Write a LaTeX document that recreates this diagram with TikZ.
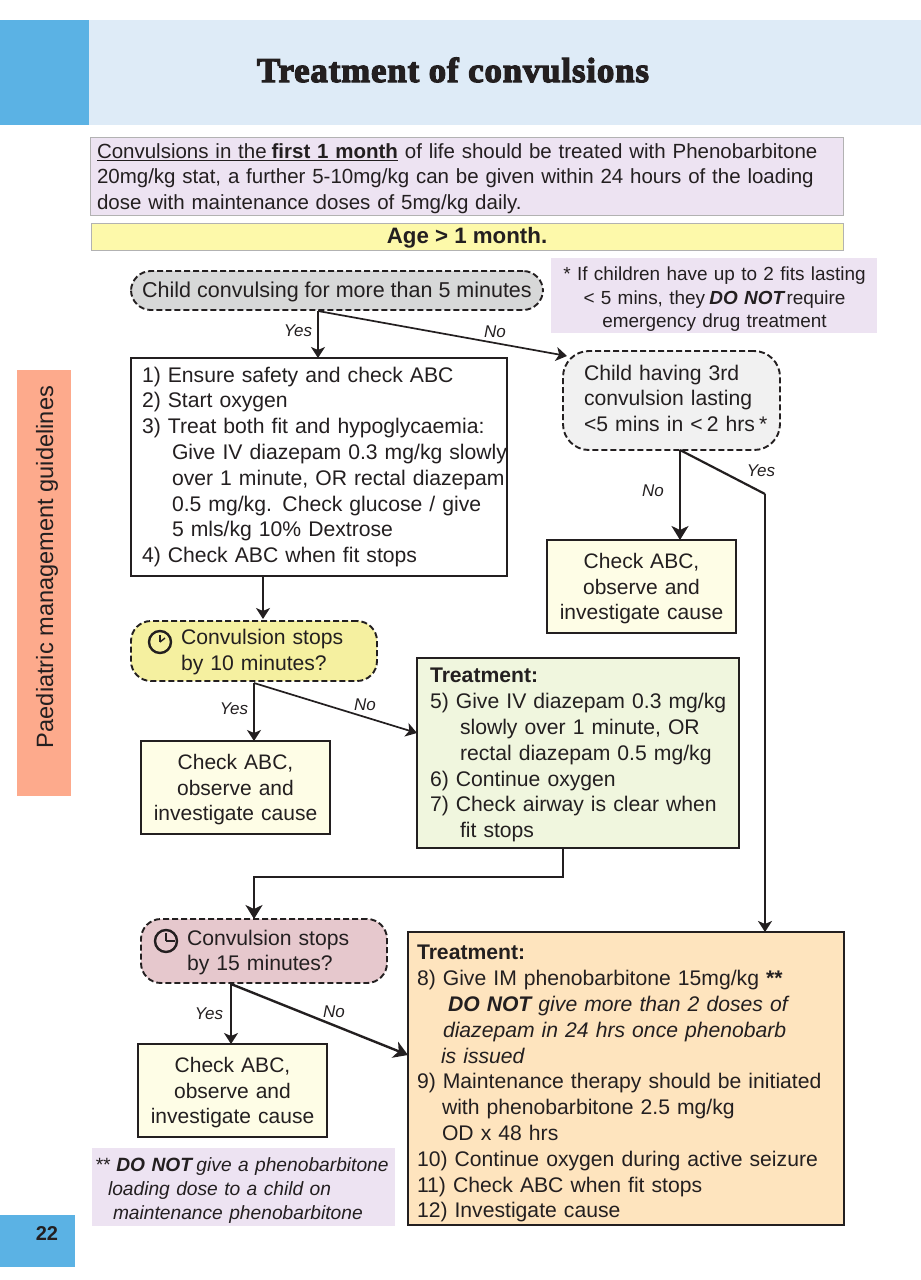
\documentclass[tikz,border=0pt]{standalone}
\usepackage{fontspec}
\setmainfont{Liberation Sans}
\newfontfamily\titlefont[FakeBold=3.5,LetterSpace=2.5]{Liberation Serif}
\usetikzlibrary{arrows.meta,calc}
\definecolor{hdrblue}{RGB}{222,235,247}
\definecolor{tabblue}{RGB}{91,178,228}
\definecolor{notepurple}{RGB}{237,227,242}
\definecolor{ageyellow}{RGB}{253,249,170}
\definecolor{startgrey}{RGB}{215,216,216}
\definecolor{lightgrey}{RGB}{241,241,241}
\definecolor{cream}{RGB}{254,253,230}
\definecolor{qyellow}{RGB}{245,240,160}
\definecolor{qpink}{RGB}{230,200,205}
\definecolor{trgreen}{RGB}{240,246,222}
\definecolor{trorange}{RGB}{254,228,190}
\definecolor{sidesalmon}{RGB}{253,170,140}
\definecolor{ink}{RGB}{35,31,32}
\newcommand{\bodytext}{\fontsize{21.15}{25.8}\selectfont}
\newcommand{\lin}[2]{\hspace*{#1pt}\rlap{#2}}
\tikzset{
  x=1pt,y=-1pt,
  every node/.style={text=ink,font=\bodytext,inner sep=0pt,outer sep=0pt},
  drop/.style={execute at begin node={\rule{0pt}{#1pt}}},
  panel/.style={anchor=north west,draw=ink,line width=2.4pt,align=left},
  check/.style={panel,fill=cream,minimum width=189pt,minimum height=93pt,text width=185pt,align=center,line width=2pt,font=\fontsize{21}{25.6}\selectfont,drop=20},
  query/.style={anchor=north west,draw=ink,line width=1.9pt,dash pattern=on 6pt off 3pt,rounded corners=20pt,align=left},
  tint/.style={anchor=north west,draw=none},
  ans/.style={font=\fontsize{17}{20}\selectfont\itshape},
  link/.style={draw=ink,line width=1.7pt,-{Stealth[length=11pt,width=14pt,inset=3pt]}},
  heavy/.style={draw=ink,line width=2.4pt,-{Stealth[length=14pt,width=17pt,inset=4pt]}},
  plain/.style={draw=ink,line width=2.2pt},
}
\begin{document}
\begin{tikzpicture}
\useasboundingbox (0,0) rectangle (921,1280);
\fill[white] (0,0) rectangle (921,1280);
% header
\node[tint,fill=tabblue,minimum width=89pt,minimum height=105pt] (tab) at (0,20) {};
\node[tint,fill=hdrblue,minimum width=832pt,minimum height=105pt] (hdr) at (89,20) {};
\node (title) at (453,70) {\titlefont\fontsize{34.8}{38}\selectfont\bfseries Treatment of convulsions};
% intro
\node[tint,fill=notepurple,draw=black!30,line width=.8pt,minimum width=753pt,minimum height=78pt,align=left,text width=753pt,font=\fontsize{20.5}{25.6}\selectfont,drop=20] (intro) at (90,137)
 {\lin{7}{\underline{Convulsions in the\hspace{-2pt} {\bfseries first 1 month}} of life should be treated with Phenobarbitone}\\
  \lin{7}{20mg/kg stat, a further 5-10mg/kg can be given within 24 hours of the loading}\\
  \lin{7}{dose with maintenance doses of 5mg/kg daily.}};
\node[tint,fill=ageyellow,draw=black!30,line width=.8pt,minimum width=752pt,minimum height=27pt,font=\fontsize{22.3}{26}\selectfont\bfseries,drop=19.5] (age) at (91,223) {Age > 1 month.};
% start
\node[query,fill=startgrey,minimum width=412pt,minimum height=39pt,align=center,font=\fontsize{21.5}{26}\selectfont,drop=18] (start) at (131,271) {Child convulsing for more than 5 minutes};
\node[tint,fill=notepurple,minimum width=326pt,minimum height=75pt,text width=326pt,align=center,font=\fontsize{18.95}{23.6}\selectfont,drop=21.5] (noteA) at (551,258)
 {\hspace*{1pt}* If children have up to 2 fits lasting\\\hspace*{1pt}\textless{} 5 mins, they\hspace{-2pt} {\bfseries\itshape DO NOT}\hspace{-4pt} require\\\hspace*{1pt}emergency drug treatment};
% box 1
\node[panel,fill=white,minimum width=376pt,minimum height=218pt,text width=376pt] (first) at (131,358)
 {\lin{11}{1) Ensure safety and check ABC}\\
  \lin{11}{2) Start oxygen}\\
  \lin{11}{3) Treat both fit and hypoglycaemia:}\\
  \lin{41}{Give IV diazepam 0.3 mg/kg slowly}\\
  \lin{41}{over 1 minute, OR rectal diazepam}\\
  \lin{41}{0.5 mg/kg. Check glucose / give}\\
  \lin{41}{5 mls/kg 10\% Dextrose}\\
  \lin{11}{4) Check ABC when fit stops}};
% third convulsion
\node[query,fill=lightgrey,minimum width=217pt,minimum height=99pt,rounded corners=26pt,text width=217pt] (third) at (563,351)
 {\lin{21}{Child having 3rd}\\\lin{21}{convulsion lasting}\\\lin{21}{<5 mins in <\hspace{-3pt} 2 hrs\hspace{-3pt} *}\rule[-4.4pt]{0pt}{4.4pt}};
\node[check] (okA) at (547,540) {Check ABC,\\observe and\\investigate cause};
% 10 minutes
\node[query,fill=qyellow,minimum width=246pt,minimum height=60pt,text width=246pt,drop=17] (ten) at (131,621)
 {\lin{50}{Convulsion stops}\\\lin{50}{by 10 minutes?}};
\node[circle,draw=ink,line width=2.4pt,minimum size=22pt] (clockA) at (160,642) {};
\draw[ink,line width=1.4pt] (clockA.center) -- ++(0,-7);
\draw[ink,line width=1.4pt] (clockA.center) -- ++(5,-4);
\node[check] (okB) at (141,741) {Check ABC,\\observe and\\investigate cause};
% green treatment
\node[panel,fill=trgreen,minimum width=322pt,minimum height=190pt,text width=322pt,drop=19] (second) at (417,658)
 {\lin{13}{\bfseries Treatment:}\\
  \lin{13}{5) Give IV diazepam 0.3 mg/kg}\\
  \lin{43}{slowly over 1 minute, OR}\\
  \lin{43}{rectal diazepam 0.5 mg/kg}\\
  \lin{13}{6) Continue oxygen}\\
  \lin{13}{7) Check airway is clear when}\\
  \lin{43}{fit stops}};
% 15 minutes
\node[query,fill=qpink,minimum width=246pt,minimum height=64pt,text width=246pt,drop=18.5] (fifteen) at (141,919)
 {\lin{46}{Convulsion stops}\\\lin{46}{by 15 minutes?}};
\node[circle,draw=ink,line width=2.4pt,minimum size=22pt] (clockB) at (166,941) {};
\draw[ink,line width=1.4pt] (clockB.center) -- ++(0,-8);
\draw[ink,line width=1.4pt] (clockB.center) -- ++(9,0);
\node[check] (okC) at (138,1044) {Check ABC,\\observe and\\investigate cause};
% orange treatment
\node[panel,fill=trorange,minimum width=436pt,minimum height=293pt,text width=436pt,drop=25] (final) at (408,932)
 {\lin{9}{\bfseries Treatment:}\\
  \lin{9}{8) Give IM phenobarbitone 15mg/kg {\bfseries**}}\\
  \lin{40}{{\bfseries\itshape DO NOT} {\itshape give more than 2 doses of}}\\
  \lin{35}{{\itshape diazepam in 24 hrs once phenobarb}}\\
  \lin{33}{{\itshape is issued}}\\
  \lin{9}{9) Maintenance therapy should be initiated}\\
  \lin{34}{with phenobarbitone 2.5 mg/kg}\\
  \lin{34}{OD x 48 hrs}\\
  \lin{9}{10) Continue oxygen during active seizure}\\
  \lin{9}{11) Check ABC when fit stops}\\
  \lin{9}{12) Investigate cause}};
\node[tint,fill=notepurple,minimum width=303pt,minimum height=78pt,text width=303pt,align=left,font=\fontsize{19.2}{23.8}\selectfont\itshape,drop=20.5] (noteB) at (92,1148)
 {\lin{3}{** {\bfseries DO NOT}\hspace{-2pt} give a phenobarbitone}\\
  \lin{16}{loading dose to a child on}\\
  \lin{21}{maintenance phenobarbitone}};
% side
\node[tint,fill=sidesalmon,minimum width=54pt,minimum height=426pt] (side) at (17,370) {};
\node[rotate=90,font=\fontsize{23.6}{26}\selectfont] (sidetext) at (47,567) {Paediatric management guidelines};
\node[tint,fill=tabblue,minimum width=75pt,minimum height=52pt] (page) at (0,1215) {};
\node[font=\fontsize{20}{24}\selectfont\bfseries] (pagenum) at (47,1234) {22};
% branch points
\coordinate (bStart) at (318,311);
\coordinate (bThird) at (680,450);
\coordinate (elbow) at (765,494);
\coordinate (bTen) at (254,683);
\coordinate (bFifteen) at (231,984);
% connectors
\draw[link] (bStart) -- (bStart |- first.north);
\draw[link] (bStart) -- ([shift={(4pt,-5pt)}]third.north west);
\draw[heavy] (bThird) -- (bThird |- okA.north);
\draw[plain] (bThird) -- (elbow);
\draw[link,line width=2.2pt] (elbow) -- (elbow |- final.north);
\draw[link] (first.south -| 263,0) -- (263,619);
\draw[link] (bTen) -- (bTen |- okB.north);
\draw[link] (bTen) -- ([yshift=-75pt]second.north west);
\draw[heavy] (second.south -| 563,0) -- (563,877) -- (254,877) -- (fifteen.north -| 254,0);
\draw[link] (bFifteen) -- (bFifteen |- okC.north);
\draw[heavy] (bFifteen) -- ([yshift=-123pt]final.north west);
% labels
\node[ans] (lYesA) at (298,331) {Yes};
\node[ans] (lNoA) at (495,332) {No};
\node[ans] (lNoB) at (653,491) {No};
\node[ans] (lYesB) at (761,471) {Yes};
\node[ans] (lYesC) at (234,709) {Yes};
\node[ans] (lNoC) at (365,705) {No};
\node[ans] (lYesD) at (209,1014) {Yes};
\node[ans] (lNoD) at (334,1012) {No};
\end{tikzpicture}
\end{document}
